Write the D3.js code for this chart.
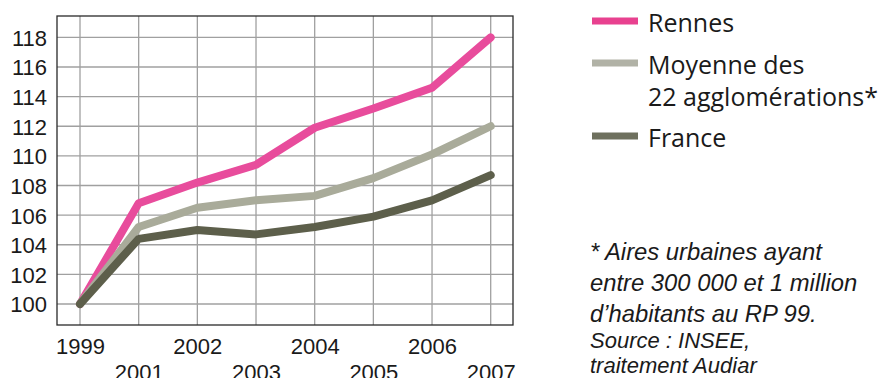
<!DOCTYPE html>
<html><head><meta charset="utf-8">
<script src="https://cdn.jsdelivr.net/npm/d3@7"></script>
<style>body{margin:0;background:#fff}svg{display:block}</style>
</head><body>
<svg id="c" width="887" height="378"></svg>
<script>
const years = ["1999","2001","2002","2003","2004","2005","2006","2007"];
const rennes = [100, 106.8, 108.2, 109.4, 111.9, 113.2, 114.6, 118.0];
const moyenne = [100, 105.2, 106.5, 107.0, 107.3, 108.5, 110.1, 112.0];
const france = [100, 104.4, 105.0, 104.7, 105.2, 105.9, 107.0, 108.7];
const yTicks = [100,102,104,106,108,110,112,114,116,118];
const seriesNames = ["Rennes", "Moyenne des\n22 agglomérations*", "France"];
const seriesColors = ["#e84c9c", "#a9ab9a", "#5d5f4b"];
const legendColors = ["#e8418f", "#b1b2a6", "#6e705e"];
const footnote = ["* Aires urbaines ayant", "entre 300 000 et 1 million", "d\u2019habitants au RP 99."];
const source = ["Source : INSEE,", "traitement Audiar"];

const svg = d3.select("#c");
const L=57, R=513, T=16, B=325;
const x = d3.scalePoint().domain(years).range([80, 490.7]);
const y = d3.scaleLinear().domain([100,118]).range([304, 37.4]);

// gridlines
const g = svg.append("g");
g.selectAll(".hg").data(yTicks).join("line")
  .attr("x1",L).attr("x2",R).attr("y1",d=>y(d)).attr("y2",d=>y(d))
  .attr("stroke","#a0a0a0").attr("stroke-width",1.3);
g.selectAll(".vg").data(years).join("line")
  .attr("x1",d=>x(d)).attr("x2",d=>x(d)).attr("y1",T).attr("y2",B)
  .attr("stroke","#a0a0a0").attr("stroke-width",1.3);
svg.append("rect").attr("x",L).attr("y",T).attr("width",R-L).attr("height",B-T)
  .attr("fill","none").attr("stroke","#2a2a2a").attr("stroke-width",1.3);

// axes
const ya = svg.append("g").attr("transform",`translate(${L},0)`)
  .call(d3.axisLeft(y).tickValues(yTicks).tickSize(0).tickPadding(10).tickFormat(d3.format("d")));
ya.select(".domain").remove();
ya.selectAll("text").attr("font-family","Liberation Sans, Arial, sans-serif").attr("font-size",22).attr("fill","#1a1a1a").attr("dy","0.36em");

const xa = svg.append("g").attr("transform",`translate(0,${B})`)
  .call(d3.axisBottom(x).tickSize(0).tickPadding(0));
xa.select(".domain").remove();
xa.selectAll("text").attr("font-family","Liberation Sans, Arial, sans-serif").attr("font-size",22).attr("fill","#1a1a1a")
  .attr("y",(d,i)=> i%2===0 ? 28.5 : 54.5).attr("dy",0);

// lines
const line = d3.line().x((d,i)=>x(years[i])).y(d=>y(d));
[rennes, moyenne, france].forEach((s,k)=>{
  svg.append("path").datum(s).attr("d",line).attr("fill","none")
    .attr("stroke",seriesColors[k]).attr("stroke-width",8)
    .attr("stroke-linejoin","round").attr("stroke-linecap","round");
});

// legend
const legY = [21, 63, 136];
const legend = svg.append("g");
seriesNames.forEach((n,k)=>{
  legend.append("rect").attr("x",592).attr("y",legY[k]-3.5).attr("width",46).attr("height",7).attr("fill",legendColors[k]);
  const t = legend.append("text").attr("x",648).attr("y",legY[k]+11)
    .attr("font-family","Open Sans, sans-serif").attr("font-size",25).attr("fill","#1a1a1a");
  n.split("\n").forEach((ln,j)=>{
    t.append("tspan").attr("x",648).attr("dy", j===0?0:32).text(ln);
  });
});

// footnote
const fn = svg.append("g").attr("font-family","Liberation Sans, Arial, sans-serif").attr("font-style","italic").attr("fill","#1a1a1a");
footnote.forEach((ln,i)=>{
  fn.append("text").attr("x",590).attr("y",260+i*31).attr("font-size",23.8).text(ln);
});
source.forEach((ln,i)=>{
  fn.append("text").attr("x",590).attr("y",348+i*25).attr("font-size",22).text(ln);
});
</script>
</body></html>
